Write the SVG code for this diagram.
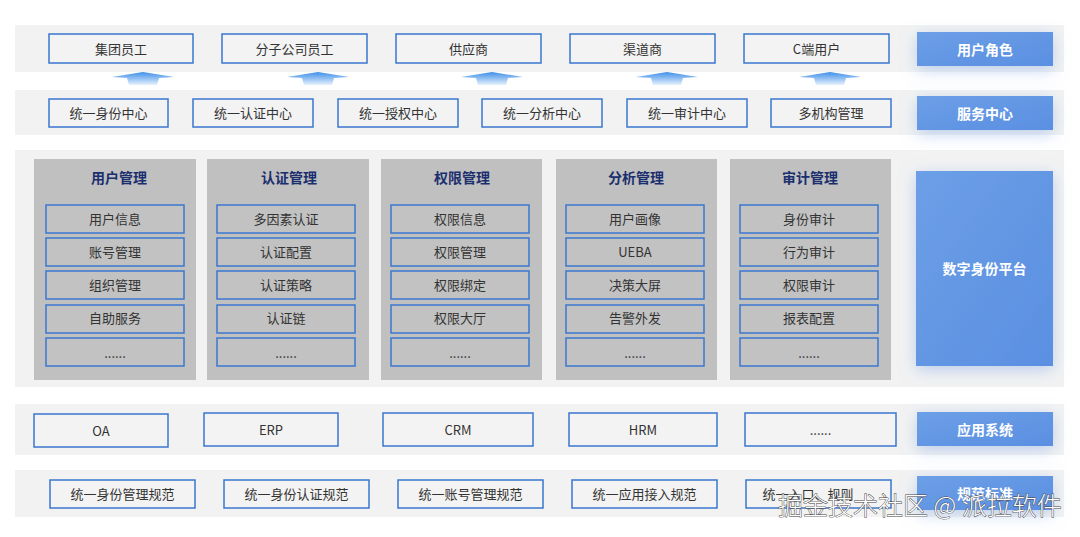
<svg xmlns="http://www.w3.org/2000/svg" width="1080" height="537" viewBox="0 0 1080 537">
<defs>
<style>
.band{fill:#f2f2f2}
.box{fill:#f3f3f3;stroke:#3a77cf;stroke-width:1.5}
.item{fill:#c2c2c2;stroke:#3a77cf;stroke-width:1.5}
.panel{fill:#c0c0c0}
.t{font-family:"Noto Sans CJK SC","Microsoft YaHei",sans-serif;font-size:13px;fill:#333;text-anchor:middle;dominant-baseline:central}
.h{font-family:"Noto Sans CJK SC",sans-serif;font-size:14px;font-weight:700;fill:#1b2f6e;text-anchor:middle;dominant-baseline:central}
.lab{fill:url(#lg);filter:url(#glow)}
.lt{font-family:"Noto Sans CJK SC",sans-serif;font-size:14px;font-weight:700;fill:#fff;text-anchor:middle;dominant-baseline:central}
.arr{fill:url(#ag)}
.wm{font-family:"Noto Sans CJK SC",sans-serif;font-size:25px;font-weight:300;fill:#fff;stroke:#444;stroke-width:0.9;paint-order:stroke}
</style>
<linearGradient id="lg" x1="0" y1="0" x2="1" y2="1">
<stop offset="0" stop-color="#6c9fe6"/>
<stop offset="1" stop-color="#5a8fe2"/>
</linearGradient>
<linearGradient id="ag" x1="0" y1="0" x2="0" y2="1">
<stop offset="0" stop-color="#3f8fe9"/>
<stop offset="1" stop-color="#e6f1fc"/>
</linearGradient>
<filter id="glow" x="-40%" y="-60%" width="180%" height="220%">
<feDropShadow dx="0" dy="4" stdDeviation="8" flood-color="#8fb0e8" flood-opacity="0.55"/>
</filter>
</defs>
<rect width="1080" height="537" fill="#ffffff"/>

<g id="bands">
<rect class="band" x="15" y="25" width="1049" height="47"/>
<rect class="band" x="15" y="90" width="1049" height="45"/>
<rect class="band" x="15" y="150" width="1049" height="237"/>
<rect class="band" x="15" y="404" width="1049" height="51"/>
<rect class="band" x="15" y="470" width="1049" height="47"/>
</g>

<g id="connectors">
<path class="arr" d="M143,72 L174,77 L159,78 L157,85 L129,85 L127,78 L112,77 Z"/>
<path class="arr" d="M318,72 L349,77 L334,78 L332,85 L304,85 L302,78 L287,77 Z"/>
<path class="arr" d="M492,72 L523,77 L508,78 L506,85 L478,85 L476,78 L461,77 Z"/>
<path class="arr" d="M667,72 L698,77 L683,78 L681,85 L653,85 L651,78 L636,77 Z"/>
<path class="arr" d="M830,72 L861,77 L846,78 L844,85 L816,85 L814,78 L799,77 Z"/>
</g>

<g id="row-user-roles">
<g id="n-jituan"><rect class="box" x="49" y="34" width="144" height="29"/><text class="t" x="121" y="48">集团员工</text></g>
<g id="n-fenzi"><rect class="box" x="222" y="34" width="145" height="29"/><text class="t" x="294.5" y="48">分子公司员工</text></g>
<g id="n-gongying"><rect class="box" x="396" y="34" width="145" height="29"/><text class="t" x="468.5" y="48">供应商</text></g>
<g id="n-qudao"><rect class="box" x="570" y="34" width="145" height="29"/><text class="t" x="642.5" y="48">渠道商</text></g>
<g id="n-cduan"><rect class="box" x="744" y="34" width="145" height="29"/><text class="t" x="816.5" y="48">C端用户</text></g>
<g id="l-yonghujuese"><rect class="lab" x="917" y="32" width="136" height="34"/><text class="lt" x="985" y="49">用户角色</text></g>
</g>

<g id="row-service">
<g id="n-s1"><rect class="box" x="49" y="99" width="119" height="28"/><text class="t" x="108.5" y="112.5">统一身份中心</text></g>
<g id="n-s2"><rect class="box" x="193" y="99" width="120" height="28"/><text class="t" x="253" y="112.5">统一认证中心</text></g>
<g id="n-s3"><rect class="box" x="338" y="99" width="120" height="28"/><text class="t" x="398" y="112.5">统一授权中心</text></g>
<g id="n-s4"><rect class="box" x="482" y="99" width="120" height="28"/><text class="t" x="542" y="112.5">统一分析中心</text></g>
<g id="n-s5"><rect class="box" x="627" y="99" width="120" height="28"/><text class="t" x="687" y="112.5">统一审计中心</text></g>
<g id="n-s6"><rect class="box" x="771" y="99" width="120" height="28"/><text class="t" x="831" y="112.5">多机构管理</text></g>
<g id="l-fuwu"><rect class="lab" x="917" y="96" width="136" height="34"/><text class="lt" x="985" y="113">服务中心</text></g>
</g>

<g id="row-platform">
<g id="p-user">
<rect class="panel" x="34" y="159" width="162" height="221"/>
<text class="h" x="119" y="177">用户管理</text>
<rect class="item" x="46" y="205" width="138" height="28"/><text class="t" x="115" y="218.5">用户信息</text>
<rect class="item" x="46" y="238" width="138" height="28"/><text class="t" x="115" y="251.5">账号管理</text>
<rect class="item" x="46" y="271" width="138" height="28"/><text class="t" x="115" y="284.5">组织管理</text>
<rect class="item" x="46" y="305" width="138" height="28"/><text class="t" x="115" y="317.5">自助服务</text>
<rect class="item" x="46" y="338" width="138" height="28"/><text class="t" x="115" y="352">......</text>
</g>
<g id="p-auth">
<rect class="panel" x="207" y="159" width="162" height="221"/>
<text class="h" x="289" y="177">认证管理</text>
<rect class="item" x="217" y="205" width="138" height="28"/><text class="t" x="286" y="218.5">多因素认证</text>
<rect class="item" x="217" y="238" width="138" height="28"/><text class="t" x="286" y="251.5">认证配置</text>
<rect class="item" x="217" y="271" width="138" height="28"/><text class="t" x="286" y="284.5">认证策略</text>
<rect class="item" x="217" y="305" width="138" height="28"/><text class="t" x="286" y="317.5">认证链</text>
<rect class="item" x="217" y="338" width="138" height="28"/><text class="t" x="286" y="352">......</text>
</g>
<g id="p-perm">
<rect class="panel" x="381" y="159" width="161" height="221"/>
<text class="h" x="462" y="177">权限管理</text>
<rect class="item" x="391" y="205" width="138" height="28"/><text class="t" x="460" y="218.5">权限信息</text>
<rect class="item" x="391" y="238" width="138" height="28"/><text class="t" x="460" y="251.5">权限管理</text>
<rect class="item" x="391" y="271" width="138" height="28"/><text class="t" x="460" y="284.5">权限绑定</text>
<rect class="item" x="391" y="305" width="138" height="28"/><text class="t" x="460" y="317.5">权限大厅</text>
<rect class="item" x="391" y="338" width="138" height="28"/><text class="t" x="460" y="352">......</text>
</g>
<g id="p-analysis">
<rect class="panel" x="556" y="159" width="161" height="221"/>
<text class="h" x="636" y="177">分析管理</text>
<rect class="item" x="566" y="205" width="138" height="28"/><text class="t" x="635" y="218.5">用户画像</text>
<rect class="item" x="566" y="238" width="138" height="28"/><text class="t" x="635" y="251.5">UEBA</text>
<rect class="item" x="566" y="271" width="138" height="28"/><text class="t" x="635" y="284.5">决策大屏</text>
<rect class="item" x="566" y="305" width="138" height="28"/><text class="t" x="635" y="317.5">告警外发</text>
<rect class="item" x="566" y="338" width="138" height="28"/><text class="t" x="635" y="352">......</text>
</g>
<g id="p-audit">
<rect class="panel" x="730" y="159" width="161" height="221"/>
<text class="h" x="810" y="177">审计管理</text>
<rect class="item" x="740" y="205" width="138" height="28"/><text class="t" x="809" y="218.5">身份审计</text>
<rect class="item" x="740" y="238" width="138" height="28"/><text class="t" x="809" y="251.5">行为审计</text>
<rect class="item" x="740" y="271" width="138" height="28"/><text class="t" x="809" y="284.5">权限审计</text>
<rect class="item" x="740" y="305" width="138" height="28"/><text class="t" x="809" y="317.5">报表配置</text>
<rect class="item" x="740" y="338" width="138" height="28"/><text class="t" x="809" y="352">......</text>
</g>
<g id="l-platform"><rect class="lab" x="916" y="171" width="137" height="195"/><text class="lt" x="984.5" y="268">数字身份平台</text></g>
</g>

<g id="row-apps">
<g id="n-oa"><rect class="box" x="34" y="414" width="134" height="33"/><text class="t" x="101" y="430">OA</text></g>
<g id="n-erp"><rect class="box" x="204" y="413" width="134" height="33"/><text class="t" x="271" y="429">ERP</text></g>
<g id="n-crm"><rect class="box" x="383" y="413" width="150" height="33"/><text class="t" x="458" y="429">CRM</text></g>
<g id="n-hrm"><rect class="box" x="569" y="413" width="148" height="33"/><text class="t" x="643" y="429">HRM</text></g>
<g id="n-appmore"><rect class="box" x="745" y="413" width="151" height="33"/><text class="t" x="820.5" y="429">......</text></g>
<g id="l-apps"><rect class="lab" x="917" y="412" width="136" height="34"/><text class="lt" x="985" y="429">应用系统</text></g>
</g>

<g id="row-standards">
<g id="n-std1"><rect class="box" x="50" y="480" width="145" height="28"/><text class="t" x="122.5" y="493.5">统一身份管理规范</text></g>
<g id="n-std2"><rect class="box" x="224" y="480" width="145" height="28"/><text class="t" x="296.5" y="493.5">统一身份认证规范</text></g>
<g id="n-std3"><rect class="box" x="398" y="480" width="145" height="28"/><text class="t" x="470.5" y="493.5">统一账号管理规范</text></g>
<g id="n-std4"><rect class="box" x="572" y="480" width="145" height="28"/><text class="t" x="644.5" y="493.5">统一应用接入规范</text></g>
<g id="n-std5"><rect class="box" x="746" y="480" width="145" height="28"/><text class="t" x="808" y="493.5">统一入口、规则</text></g>
<g id="l-std"><rect class="lab" x="917" y="476" width="136" height="34"/><text class="lt" x="985" y="493">规范标准</text></g>
</g>

<text class="wm" x="778" y="515">掘金技术社区 @ 派拉软件</text>
</svg>
